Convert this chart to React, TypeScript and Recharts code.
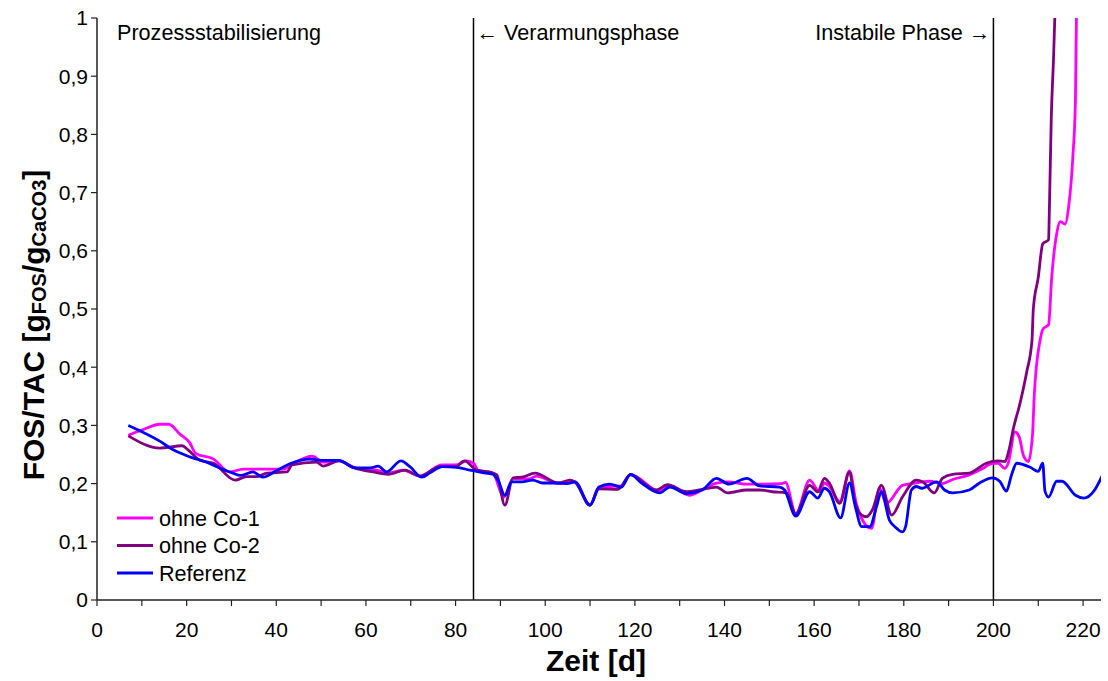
import React from 'react';
import { LineChart, Line, XAxis, YAxis, ReferenceLine, Customized } from 'recharts';

// Series metadata
const seriesNames = ['ohne Co-1', 'ohne Co-2', 'Referenz'];
const seriesColors = ['#FF00FF', '#800080', '#0000FF'];

// ohne Co-1 (FOS/TAC over time, days)
const ohneCo1Days = [
  7, 10, 14, 16, 18.5, 20.7, 22, 26, 29.6, 32.6, 41.5, 43.8, 48, 50.4, 54, 57.5, 62.4, 65, 68.2, 72,
  77, 80, 82.5, 84, 85, 88.3, 90.8, 92.8, 96.5, 98, 103, 106.6, 110, 112, 117, 119, 125.5, 127.8, 132.2, 135,
  138.2, 141, 145, 152.7, 153.6, 155.9, 159, 161.2, 162.3, 163.4, 165.7, 167.9, 169.4, 170.8, 172.8, 174.6, 176.1, 179.7, 181.9, 185.7,
  188.6, 190.9, 194.6, 197.6, 199.8, 201.1, 202.5, 203.3, 204.8, 205.8, 206.7, 207.8, 208.7, 209.1, 210.4, 211.1, 212.3, 213, 214.1, 214.9,
  216, 216.8, 217.7, 218.3, 218.6,
];
const ohneCo1Values = [
  0.283, 0.292, 0.302, 0.302, 0.285, 0.27, 0.252, 0.242, 0.22, 0.225, 0.225, 0.235, 0.247, 0.237, 0.239, 0.227, 0.223, 0.218, 0.223, 0.213,
  0.232, 0.232, 0.239, 0.235, 0.223, 0.218, 0.177, 0.208, 0.208, 0.213, 0.2, 0.203, 0.163, 0.194, 0.196, 0.216, 0.187, 0.196, 0.18, 0.189,
  0.201, 0.203, 0.199, 0.2, 0.202, 0.148, 0.206, 0.186, 0.201, 0.195, 0.169, 0.222, 0.166, 0.137, 0.123, 0.192, 0.166, 0.197, 0.2, 0.204,
  0.2, 0.207, 0.215, 0.226, 0.235, 0.235, 0.226, 0.235, 0.289, 0.279, 0.248, 0.238, 0.282, 0.35, 0.446, 0.466, 0.473, 0.554, 0.629, 0.65,
  0.646, 0.677, 0.759, 0.86, 1.05,
];

// ohne Co-2
const ohneCo2Days = [
  7, 14, 19, 20.3, 23, 26, 30.8, 33.4, 35.7, 37.9, 42.4, 43.5, 49, 50.4, 54, 57.5, 61.6, 65, 68.7, 72,
  76.5, 80, 82, 84.7, 87.6, 89.2, 91, 92.8, 94.8, 97.7, 103, 105.5, 106.6, 110, 112, 116.2, 119, 124.8, 127.3, 131.5,
  134.4, 138.2, 140.7, 145, 147.8, 150.7, 153.8, 155.9, 159, 160.8, 162.3, 163.4, 165.7, 167.9, 169, 170.6, 171.7, 173, 175, 177.3,
  179.7, 182.8, 184.2, 186.8, 188.6, 190.9, 194.6, 198.4, 200.9, 202.5, 203.6, 204.4, 205.9, 207.4, 208.6, 208.9, 210, 211, 212.3, 212.5,
  212.9, 213.4, 213.9,
];
const ohneCo2Values = [
  0.282, 0.261, 0.265, 0.258, 0.24, 0.235, 0.206, 0.212, 0.212, 0.218, 0.22, 0.232, 0.237, 0.23, 0.239, 0.227, 0.22, 0.216, 0.223, 0.213,
  0.229, 0.229, 0.239, 0.223, 0.22, 0.215, 0.163, 0.21, 0.211, 0.218, 0.201, 0.206, 0.203, 0.163, 0.191, 0.19, 0.215, 0.189, 0.198, 0.186,
  0.189, 0.194, 0.184, 0.189, 0.189, 0.186, 0.184, 0.148, 0.197, 0.186, 0.209, 0.201, 0.166, 0.22, 0.172, 0.146, 0.143, 0.155, 0.197, 0.146,
  0.177, 0.206, 0.203, 0.184, 0.209, 0.216, 0.218, 0.235, 0.239, 0.238, 0.262, 0.293, 0.337, 0.391, 0.446, 0.5, 0.554, 0.612, 0.619, 0.677,
  0.827, 0.929, 1.05,
];

// Referenz
const referenzDays = [
  7, 14, 17, 20.7, 24, 27, 30.3, 32, 34.8, 37, 40, 43, 47.5, 50, 54, 57.5, 61, 62.7, 64.6, 67.8,
  69.8, 72.5, 74.2, 77.1, 80.2, 83.2, 86, 88.3, 89.5, 91, 92.5, 94.8, 97.2, 99.4, 103, 105, 106.6, 110, 112, 114.4,
  117, 119, 121.5, 125.5, 127.8, 131.5, 135, 138.2, 141, 145, 147.8, 152.3, 153.4, 155.9, 159, 160.8, 162.3, 163.4, 165.9, 167.9,
  169.2, 170.6, 172.4, 173.9, 175, 176.8, 178, 179.7, 180.4, 181.7, 182.8, 184, 187.3, 189.1, 190.9, 194.6, 196.9, 199.8, 201.4, 202.9,
  204, 205.2, 208.2, 210, 211, 211.5, 212.3, 214.1, 215.3, 218.3, 220.2, 222.4, 224.3,
];
const referenzValues = [
  0.3, 0.273, 0.258, 0.246, 0.238, 0.228, 0.218, 0.214, 0.22, 0.211, 0.222, 0.234, 0.242, 0.24, 0.24, 0.227, 0.227, 0.23, 0.22, 0.239,
  0.229, 0.211, 0.218, 0.229, 0.228, 0.223, 0.219, 0.216, 0.205, 0.18, 0.203, 0.203, 0.206, 0.201, 0.201, 0.2, 0.203, 0.163, 0.194, 0.199,
  0.194, 0.216, 0.201, 0.184, 0.194, 0.183, 0.189, 0.209, 0.199, 0.209, 0.196, 0.194, 0.189, 0.144, 0.186, 0.175, 0.192, 0.186, 0.141, 0.201,
  0.16, 0.126, 0.126, 0.16, 0.186, 0.137, 0.126, 0.117, 0.126, 0.189, 0.195, 0.192, 0.203, 0.189, 0.184, 0.189, 0.201, 0.21, 0.204, 0.187,
  0.214, 0.235, 0.228, 0.221, 0.235, 0.187, 0.177, 0.204, 0.204, 0.18, 0.175, 0.187, 0.214,
];

// Axes
const xTicks = [0, 10, 20, 30, 40, 50, 60, 70, 80, 90, 100, 110, 120, 130, 140, 150, 160, 170, 180, 190, 200, 210, 220];
const yTicks = [0, 0.1, 0.2, 0.3, 0.4, 0.5, 0.6, 0.7, 0.8, 0.9, 1];
const xDomain = [0, 224];
const yDomain = [0, 1];

// Phase boundaries and labels
const phaseBounds = [84, 200];
const phaseLabels = ['Prozessstabilisierung', '\u2190 Verarmungsphase', 'Instabile Phase \u2192'];

const FONT = '"Liberation Sans", Arial, Helvetica, sans-serif';

const toPoints = (days: number[], values: number[]) => days.map((d, i) => ({ d, v: values[i] }));
const seriesData = [
  toPoints(ohneCo1Days, ohneCo1Values),
  toPoints(ohneCo2Days, ohneCo2Values),
  toPoints(referenzDays, referenzValues),
];

const formatY = (v: number) => (v === 0 ? '0' : v === 1 ? '1' : v.toFixed(1).replace('.', ','));
const formatX = (v: number) => (v % 20 === 0 ? String(v) : '');

const phaseText = (text: string, anchor: 'start' | 'end', dx: number) => (props: any) => {
  const vb = props.viewBox || {};
  return (
    <text
      x={vb.x + dx}
      y={vb.y + 22}
      textAnchor={anchor}
      fontFamily={FONT}
      fontSize={21.6}
      fill="#000"
    >
      {text}
    </text>
  );
};

const YTitle = (props: any) => {
  const vb = props.viewBox || {};
  const cx = vb.x + 23;
  const cy = vb.y + vb.height / 2 + 16;
  return (
    <text
      transform={`translate(${cx},${cy}) rotate(-90)`}
      textAnchor="middle"
      fontFamily={FONT}
      fontWeight="bold"
      fontSize={30}
      fill="#000"
      dominantBaseline="central"
    >
      FOS/TAC [g
      <tspan fontSize={20} dy={6}>FOS</tspan>
      <tspan dy={-6}>/g</tspan>
      <tspan fontSize={20} dy={6}>CaCO3</tspan>
      <tspan dy={-6}>]</tspan>
    </text>
  );
};

const XTitle = (props: any) => {
  const vb = props.viewBox || {};
  return (
    <text
      x={vb.x + vb.width / 2 - 3}
      y={vb.y + 71}
      textAnchor="middle"
      fontFamily={FONT}
      fontWeight="bold"
      fontSize={30}
      fill="#000"
    >
      Zeit [d]
    </text>
  );
};

const LegendBlock = () => (
  <g>
    {seriesNames.map((name, i) => {
      const y = 518 + i * 27.5;
      return (
        <g key={name}>
          <line x1={117} x2={153} y1={y} y2={y} stroke={seriesColors[i]} strokeWidth={3} />
          <text x={159} y={y} dominantBaseline="central" fontFamily={FONT} fontSize={21.6} fill="#000">
            {name}
          </text>
        </g>
      );
    })}
  </g>
);

export default function App() {
  return (
    <div style={{ position: 'absolute', left: 0, top: 0, width: 1108, height: 681, background: '#fff' }}>
      <LineChart width={1108} height={681} margin={{ top: 18, right: 7, bottom: 21, left: 10 }}>
        <XAxis
          dataKey="d"
          type="number"
          domain={xDomain}
          ticks={xTicks}
          tickFormatter={formatX}
          allowDataOverflow
          interval={0}
          height={60}
          tickSize={6}
          tickMargin={16}
          axisLine={{ stroke: '#222', strokeWidth: 1.5 }}
          tickLine={{ stroke: '#222', strokeWidth: 1.2 }}
          tick={{ fill: '#000', fontSize: 21, fontFamily: FONT }}
          label={{ content: XTitle }}
        />
        <YAxis
          type="number"
          domain={yDomain}
          ticks={yTicks}
          tickFormatter={formatY}
          allowDataOverflow
          interval={0}
          width={87}
          tickSize={6}
          tickMargin={3}
          axisLine={{ stroke: '#222', strokeWidth: 1.5 }}
          tickLine={{ stroke: '#222', strokeWidth: 1.2 }}
          tick={{ fill: '#000', fontSize: 21, fontFamily: FONT }}
          label={{ content: YTitle }}
        />
        <ReferenceLine x={0} stroke="none" label={phaseText(phaseLabels[0], 'start', 20)} />
        <ReferenceLine x={phaseBounds[0]} stroke="#000" strokeWidth={1.5} label={phaseText(phaseLabels[1], 'start', 3)} />
        <ReferenceLine x={phaseBounds[1]} stroke="#000" strokeWidth={1.5} label={phaseText(phaseLabels[2], 'end', -3)} />
        {seriesNames.map((name, i) => (
          <Line
            key={name}
            name={name}
            data={seriesData[i]}
            dataKey="v"
            type="monotone"
            stroke={seriesColors[i]}
            strokeWidth={2.8}
            dot={false}
            activeDot={false}
            isAnimationActive={false}
          />
        ))}
        <Customized component={LegendBlock} />
      </LineChart>
    </div>
  );
}
